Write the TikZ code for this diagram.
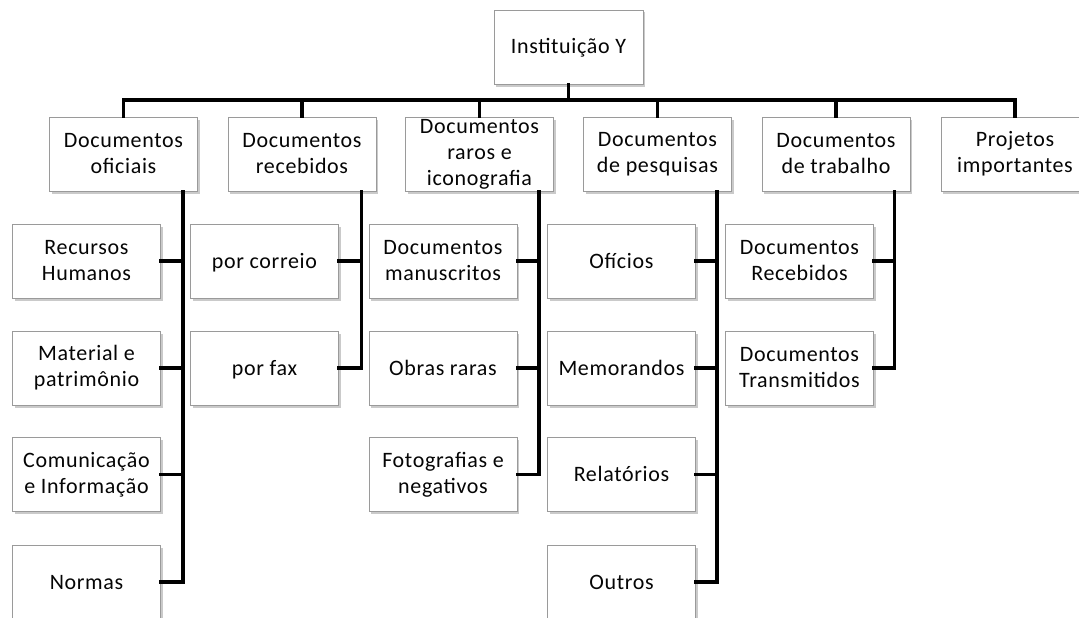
\documentclass[tikz,border=0pt]{standalone}
\usepackage{fontspec}
\setmainfont{Carlito}[LetterSpace=3]
\usetikzlibrary{shadows}
\definecolor{boxedge}{HTML}{9A9A9A}
\definecolor{txt}{HTML}{050505}
\begin{document}
\begin{tikzpicture}[x=1pt,y=-1pt,
  box/.style={draw=boxedge, line width=0.9pt, fill=white, minimum width=148pt, minimum height=74pt,
    align=center, inner sep=2pt, text=txt, font=\fontsize{22}{26}\selectfont,
    drop shadow={shadow xshift=2pt, shadow yshift=-2.5pt, opacity=0.35, fill=black!60}},
  one/.style={text height=17pt, text depth=3pt},
  link/.style={line width=3.6pt, black, line cap=rect, line join=miter}]
\useasboundingbox (0,0) rectangle (1079,618);

% top
\node[box, one, minimum width=149pt] (top) at (568.5,47) {Instituição Y};

% level 1
\node[box] (p1) at (123.5,154) {Documentos\\oficiais};
\node[box] (p2) at (302,154) {Documentos\\recebidos};
\node[box] (p3) at (479.5,154) {Documentos\\raros e\\iconografia};
\node[box] (p4) at (657.5,154) {Documentos\\de pesquisas};
\node[box] (p5) at (836,154) {Documentos\\de trabalho};
\node[box] (p6) at (1015,154) {Projetos\\importantes};

% children
\node[box] (a1) at (86.5,261) {Recursos\\Humanos};
\node[box] (a2) at (86.5,368) {Material e\\patrimônio};
\node[box] (a3) at (86.5,474.5) {Comunicação\\e Informação};
\node[box, one] (a4) at (86.5,582) {Normas};

\node[box, one] (b1) at (264.5,261) {por correio};
\node[box, one] (b2) at (264.5,368) {por fax};

\node[box] (c1) at (443,261) {Documentos\\manuscritos};
\node[box, one] (c2) at (443,368) {Obras raras};
\node[box] (c3) at (443,474.5) {Fotografias e\\negativos};

\node[box, one] (d1) at (621.5,261) {Ofícios};
\node[box, one] (d2) at (621.5,368) {Memorandos};
\node[box, one] (d3) at (621.5,474.5) {Relatórios};
\node[box, one] (d4) at (621.5,582) {Outros};

\node[box] (e1) at (799.5,261) {Documentos\\Recebidos};
\node[box] (e2) at (799.5,368) {Documentos\\Transmitidos};

% bar
\coordinate (bar) at (568.5,100);
\draw[link] (top.south) -- (bar);
\foreach \p in {p1,p2,p3,p4,p5,p6} {\draw[link] (\p.north) |- (bar);}

% child spines
\coordinate (s1) at ([xshift=-15pt]p1.south east);
\coordinate (s2) at ([xshift=-15pt]p2.south east);
\coordinate (s3) at ([xshift=-15pt]p3.south east);
\coordinate (s4) at ([xshift=-15pt]p4.south east);
\coordinate (s5) at ([xshift=-16pt]p5.south east);
\foreach \c in {a1,a2,a3,a4} {\draw[link] (s1) |- (\c.east);}
\foreach \c in {b1,b2} {\draw[link] (s2) |- (\c.east);}
\foreach \c in {c1,c2,c3} {\draw[link] (s3) |- (\c.east);}
\foreach \c in {d1,d2,d3,d4} {\draw[link] (s4) |- (\c.east);}
\foreach \c in {e1,e2} {\draw[link] (s5) |- (\c.east);}
\end{tikzpicture}
\end{document}
